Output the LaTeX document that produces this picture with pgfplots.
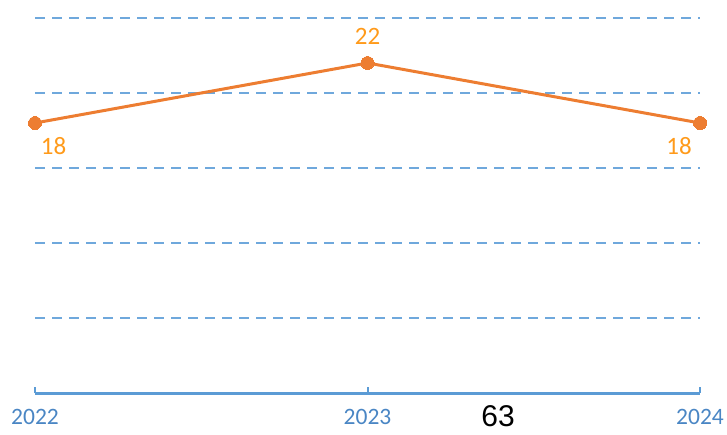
\documentclass[border=0pt]{standalone}
\usepackage{pgfplots}
\pgfplotsset{compat=1.18}
\usepackage{fontspec}
\setmainfont{Carlito}
\newfontfamily\arialfont{Liberation Sans}
\definecolor{lineorange}{HTML}{ED7D31}
\definecolor{labelorange}{HTML}{FF9A1A}
\definecolor{axisblue}{HTML}{5B9BD5}
\definecolor{gridblue}{HTML}{6FA8DC}
\definecolor{ticklabelblue}{HTML}{4A86C4}
\begin{document}
\begin{tikzpicture}
\path[use as bounding box] (-35pt,-41pt) rectangle (692pt,393pt);
\begin{axis}[
  scale only axis,
  width=665pt, height=375pt,
  xmin=2022, xmax=2024, ymin=0, ymax=25,
  /pgf/number format/assume math mode=true,
  axis x line*=bottom, axis y line*=left,
  y axis line style={draw=none},
  x axis line style={draw=axisblue, line width=3pt},
  xtick={2022,2023,2024}, xticklabels={2022,2023,2024},
  ytick={5,10,15,20,25}, yticklabels={},
  ymajorgrids,
  major y tick style={draw=none},
  major x tick style={draw=axisblue, line width=2pt},
  major tick length=6pt,
  xtick align=inside,
  y grid style={draw=gridblue, line width=2pt, dash pattern=on 10pt off 7pt},
  x tick label style={font=\fontsize{23.5}{25}\selectfont, text=ticklabelblue, yshift=-13pt},
  clip=false,
]
\addplot[
  color=lineorange, line width=3pt,
  mark=*, mark size=6.5pt, mark options={fill=lineorange, draw=lineorange, line width=0pt},
  point meta=y,
  nodes near coords,
  visualization depends on={\thisrow{dx}\as\dx},
  visualization depends on={\thisrow{dy}\as\dy},
  every node near coord/.append style={anchor=center, xshift=\dx pt, yshift=\dy pt,
     font=\fontsize{25}{27}\selectfont, text=labelorange, inner sep=0pt},
] table {
x y dx dy
2022 18 18.5 -23
2023 22 0 26.5
2024 18 -21 -23
};
\end{axis}
\node[font=\arialfont\fontsize{30}{32}\selectfont, text=black, inner sep=0pt] at (463pt,-23pt) {63};
\end{tikzpicture}
\end{document}
